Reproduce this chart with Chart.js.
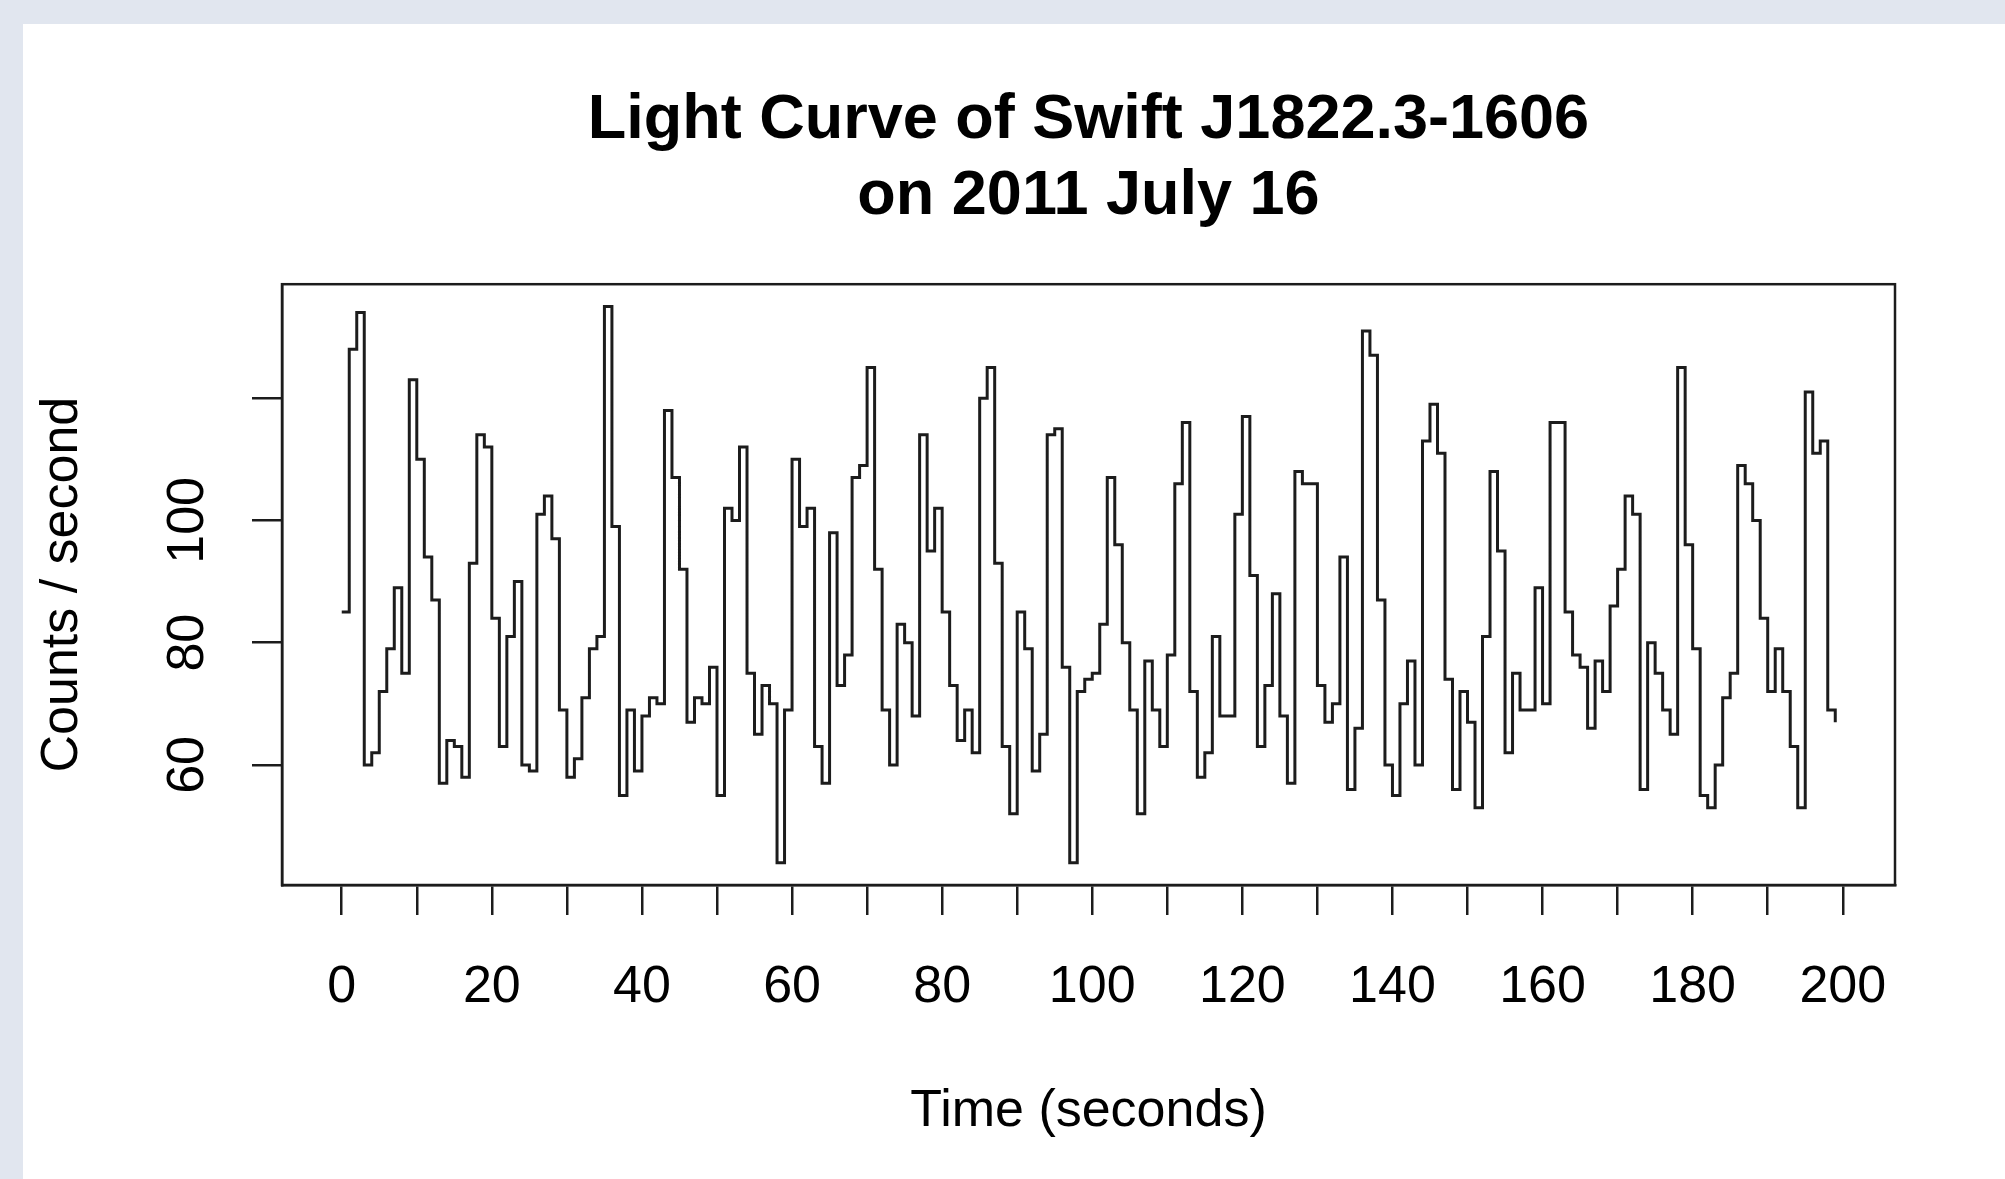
<!DOCTYPE html>
<html>
<head>
<meta charset="utf-8">
<title>Light Curve of Swift J1822.3-1606</title>
<script src="https://cdn.jsdelivr.net/npm/chart.js@4.4.1/dist/chart.umd.min.js"></script>
<style>
    html, body { margin: 0; padding: 0; background: #e1e6ef; }
    #panel { position: absolute; left: 23px; top: 24px; right: 0; bottom: 0; background: #fff; }
    #wrap { position: absolute; left: 0; top: 0; width: 2005px; height: 1179px; }
</style>
</head>
<body>
<div id="panel"></div>
<div id="wrap"><canvas id="lightCurve"></canvas></div>
<script>
// counts per second, one bin per second starting at t = 0
const startTime = 0;
const binSeconds = 1;
const counts = [
    85, 128, 134, 60, 62, 72, 79, 89, 75, 123,
    110, 94, 87, 57, 64, 63, 58, 93, 114, 112,
    84, 63, 81, 90, 60, 59, 101, 104, 97, 69,
    58, 61, 71, 79, 81, 135, 99, 55, 69, 59,
    68, 71, 70, 118, 107, 92, 67, 71, 70, 76,
    55, 102, 100, 112, 75, 65, 73, 70, 44, 69,
    110, 99, 102, 63, 57, 98, 73, 78, 107, 109,
    125, 92, 69, 60, 83, 80, 68, 114, 95, 102,
    85, 73, 64, 69, 62, 120, 125, 93, 63, 52,
    85, 79, 59, 65, 114, 115, 76, 44, 72, 74,
    75, 83, 107, 96, 80, 69, 52, 77, 69, 63,
    78, 106, 116, 72, 58, 62, 81, 68, 68, 101,
    117, 91, 63, 73, 88, 68, 57, 108, 106, 106,
    73, 67, 70, 94, 56, 66, 131, 127, 87, 60,
    55, 70, 77, 60, 113, 119, 111, 74, 56, 72,
    67, 53, 81, 108, 95, 62, 75, 69, 69, 89,
    70, 116, 116, 85, 78, 76, 66, 77, 72, 86,
    92, 104, 101, 56, 80, 75, 69, 65, 125, 96,
    79, 55, 53, 60, 71, 75, 109, 106, 100, 84,
    72, 79, 72, 63, 53, 121, 111, 113, 69, 67
];

const xTickValues = [0, 10, 20, 30, 40, 50, 60, 70, 80, 90, 100, 110, 120, 130, 140, 150, 160, 170, 180, 190, 200];
const xLabelValues = [0, 20, 40, 60, 80, 100, 120, 140, 160, 180, 200];
const yTickValues = [60, 80, 100, 120];
const yLabelValues = [60, 80, 100];

const titleLines = ['Light Curve of Swift J1822.3-1606', 'on 2011 July 16'];
const xTitle = 'Time (seconds)';
const yTitle = 'Counts / second';

const ink = '#1c1c1c';
const family = '"Liberation Sans", Arial, Helvetica, sans-serif';

// R style axis padding: 4% either side of the data range
const lastTime = startTime + (counts.length - 1) * binSeconds;
const xPad = (lastTime - startTime) * 0.04;
const yMinData = Math.min(...counts), yMaxData = Math.max(...counts);
const yPad = (yMaxData - yMinData) * 0.04;

// plot box like R's box()
const boxPlugin = {
    id: 'box',
    afterDraw(chart) {
        const a = chart.chartArea, ctx = chart.ctx;
        ctx.save();
        ctx.strokeStyle = ink;
        ctx.lineWidth = 2.5;
        ctx.strokeRect(a.left, a.top, a.right - a.left, a.bottom - a.top);
        ctx.restore();
    }
};

const ctx = document.getElementById('lightCurve').getContext('2d');
const lightChart = new Chart(ctx, {
    type: 'line',
    data: {
        datasets: [{
            data: counts.map((c, i) => ({ x: startTime + i * binSeconds, y: c })),
            borderColor: ink,
            borderWidth: 3,
            pointRadius: 0,
            stepped: 'before',
            fill: false
        }]
    },
    options: {
        responsive: true,
        maintainAspectRatio: false,
        animation: false,
        events: [],
        layout: { padding: { left: 0, right: 110, top: 0, bottom: 0 } },
        plugins: {
            legend: { display: false },
            tooltip: { enabled: false },
            title: {
                display: true,
                text: titleLines,
                fullSize: false,
                color: '#000',
                font: { size: 63, weight: 'bold', family: family, lineHeight: 1.2 },
                padding: { top: 83, bottom: 50 }
            }
        },
        scales: {
            x: {
                type: 'linear',
                min: startTime - xPad,
                max: lastTime + xPad,
                afterBuildTicks: s => { s.ticks = xTickValues.map(v => ({ value: v })); },
                afterFit: s => { s.height = 294; },
                grid: { drawOnChartArea: false, drawTicks: true, tickLength: 30, color: ink, lineWidth: 2.5 },
                border: { display: true, color: ink, width: 2.5 },
                ticks: {
                    autoSkip: false,
                    maxRotation: 0,
                    padding: 41,
                    color: '#000',
                    font: { size: 52, family: family },
                    callback: v => xLabelValues.includes(v) ? String(v) : ''
                },
                title: {
                    display: true,
                    text: xTitle,
                    color: '#000',
                    font: { size: 52, family: family },
                    padding: { top: 0, bottom: 36 }
                }
            },
            y: {
                type: 'linear',
                min: yMinData - yPad,
                max: yMaxData + yPad,
                afterBuildTicks: s => { s.ticks = yTickValues.map(v => ({ value: v })); },
                afterFit: s => { s.width = 282; },
                grid: { drawOnChartArea: false, drawTicks: true, tickLength: 30, color: ink, lineWidth: 2.5 },
                border: { display: true, color: ink, width: 2.5 },
                ticks: {
                    minRotation: 90,
                    maxRotation: 90,
                    crossAlign: 'center',
                    padding: 20,
                    color: '#000',
                    font: { size: 52, family: family },
                    callback: v => yLabelValues.includes(v) ? String(v) : ''
                },
                title: {
                    display: true,
                    text: yTitle,
                    color: '#000',
                    font: { size: 52, family: family },
                    padding: { top: 31, bottom: 0 }
                }
            }
        }
    },
    plugins: [boxPlugin]
});
</script>
</body>
</html>
